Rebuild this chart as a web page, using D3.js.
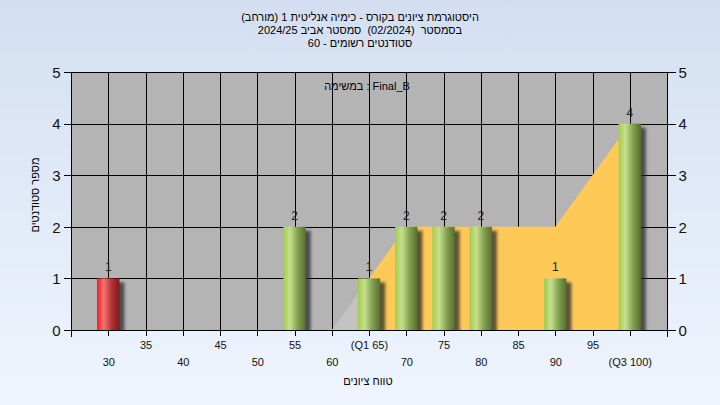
<!DOCTYPE html>
<html><head><meta charset="utf-8">
<script src="https://cdn.jsdelivr.net/npm/d3@7"></script>
<style>html,body{margin:0;padding:0;}svg{display:block;} .pre{white-space:pre;}</style>
</head><body><svg id="c" width="720" height="405"></svg>
<script>
const categories = [30,35,40,45,50,55,60,65,70,75,80,85,90,95,100];
const counts     = [1,0,0,0,0,2,0,1,2,2,2,0,1,0,4];
const tickLabels = ["30","35","40","45","50","55","60","(Q1 65)","70","75","80","85","90","95","(Q3 100)"];
const areaGrades = [60,65,70,75,80,85,90,95,100];
const areaValues = [0,1,2,2,2,2,2,3,4];
const yTicks = [0,1,2,3,4,5];
const titleLines = [
  "היסטוגרמת ציונים בקורס - כימיה אנליטית 1 (מורחב)",
  "בסמסטר  (02/2024)  סמסטר אביב 2024/25",
  "סטודנטים רשומים - 60"
];
const subTitle = "במשימה : Final_B";
const xTitle = "טווח ציונים";
const yTitle = "מספר סטודנטים";
const LRM = "\u200E"; // left-to-right base direction, as in the original renderer

const svg = d3.select("#c");
const W=720,H=405;
const L=71,R=667,T=72,B=330;
const font = "'Liberation Sans', Arial, sans-serif";

const defs = svg.append("defs");
const bg = defs.append("linearGradient").attr("id","bg").attr("x1",0).attr("y1",0).attr("x2",0).attr("y2",1);
bg.append("stop").attr("offset","0%").attr("stop-color","#d3dff1");
bg.append("stop").attr("offset","100%").attr("stop-color","#eff5fe");
function cyl(id, c0, c1, c2, c3){
  const g = defs.append("linearGradient").attr("id",id).attr("x1",0).attr("y1",0).attr("x2",1).attr("y2",0);
  g.append("stop").attr("offset","0%").attr("stop-color",c0);
  g.append("stop").attr("offset","30%").attr("stop-color",c1);
  g.append("stop").attr("offset","65%").attr("stop-color",c2);
  g.append("stop").attr("offset","100%").attr("stop-color",c3);
}
cyl("gGreen","#a2cc4c","#c6e08e","#849f50","#55702c");
cyl("gRed","#ec1c24","#f97373","#b23434","#801818");
const f = defs.append("filter").attr("id","sh").attr("x","-50%").attr("y","-50%").attr("width","200%").attr("height","200%");
f.append("feGaussianBlur").attr("stdDeviation",1.6);

svg.append("rect").attr("width",W).attr("height",H).attr("fill","url(#bg)");

const x = d3.scaleLinear().domain([25,105]).range([L,R]);
const y = d3.scaleLinear().domain([0,5]).range([B,T]);

svg.append("rect").attr("x",L).attr("y",T).attr("width",R-L).attr("height",B-T).attr("fill","#b4b4b4");

const grid = svg.append("g").attr("stroke","#000").attr("stroke-width",1).attr("shape-rendering","crispEdges");
grid.selectAll("line.h").data(yTicks.slice(1)).join("line")
  .attr("x1",L).attr("x2",R).attr("y1",d=>Math.round(y(d))+0.5).attr("y2",d=>Math.round(y(d))+0.5);
grid.selectAll("line.v").data(categories).join("line")
  .attr("x1",d=>Math.round(x(d))+0.5).attr("x2",d=>Math.round(x(d))+0.5).attr("y1",T).attr("y2",B);

const areaPts = areaGrades.map((g,i)=>({g,v:areaValues[i]}));
const area = d3.area().x(d=>x(d.g)).y0(y(0)).y1(d=>y(d.v));
svg.append("path").attr("d",area(areaPts.filter(d=>d.g<=65))).attr("fill","#c3c3c3");
svg.append("path").attr("d",area(areaPts.filter(d=>d.g>=65))).attr("fill","#ffc957");

const band = x(35)-x(30);
const bw = band*0.6;
const data = categories.map((c,i)=>({c,v:counts[i]})).filter(d=>d.v>0);
const bars = svg.append("g");
bars.selectAll("rect.s").data(data).join("rect")
  .attr("x",d=>x(d.c)-bw/2+5).attr("y",d=>y(d.v)+4).attr("width",bw).attr("height",d=>y(0)-y(d.v))
  .attr("fill","#2a2a2a").attr("opacity",0.75).attr("filter","url(#sh)");
bars.selectAll("rect.b").data(data).join("rect")
  .attr("x",d=>x(d.c)-bw/2).attr("y",d=>y(d.v)).attr("width",bw).attr("height",d=>y(0)-y(d.v))
  .attr("fill",d=>d.c<55?"url(#gRed)":"url(#gGreen)");
bars.selectAll("text").data(data).join("text")
  .attr("x",d=>x(d.c)).attr("y",d=>y(d.v)-7).attr("text-anchor","middle")
  .attr("font-family",font).attr("font-size",12).attr("fill","#222").text(d=>d.v);

svg.append("rect").attr("x",L-10).attr("y",B+0.5).attr("width",R-L+20).attr("height",12).attr("fill","#e9f1fc");

const ax = svg.append("g").attr("stroke","#000").attr("shape-rendering","crispEdges");
ax.append("line").attr("x1",L+0.5).attr("x2",L+0.5).attr("y1",T).attr("y2",B+7);
ax.append("line").attr("x1",R+0.5).attr("x2",R+0.5).attr("y1",T).attr("y2",B+7);
ax.append("line").attr("x1",L).attr("x2",R).attr("y1",B+0.5).attr("y2",B+0.5);

const yl = svg.append("g").attr("transform",`translate(${L+0.5},0)`)
  .call(d3.axisLeft(y).tickValues(yTicks).tickSize(8).tickPadding(3).tickFormat(d3.format("d")));
const yr = svg.append("g").attr("transform",`translate(${R+0.5},0)`)
  .call(d3.axisRight(y).tickValues(yTicks).tickSize(8).tickPadding(3).tickFormat(d3.format("d")));
const xa = svg.append("g").attr("transform",`translate(0,${B+0.5})`)
  .call(d3.axisBottom(x).tickValues(categories).tickSize(5).tickFormat((d,i)=>tickLabels[i]));
[yl,yr,xa].forEach(g=>{
  g.select(".domain").remove();
  g.selectAll("line").attr("stroke","#000").attr("shape-rendering","crispEdges");
});
[yl,yr].forEach(g=>g.selectAll("text").attr("font-family",font).attr("font-size",15).attr("fill","#111").attr("dy","0.35em"));
xa.selectAll("text").attr("font-family",font).attr("font-size",11).attr("fill","#111")
  .attr("y",(d,i)=> i%2===0 ? 28 : 11).attr("dy","0.71em");

svg.append("g").selectAll("text").data(titleLines).join("text").attr("class","pre")
  .attr("x",360).attr("y",(d,i)=>21+i*13).attr("text-anchor","middle").attr("direction","ltr")
  .attr("font-family",font).attr("font-size",11).attr("fill","#000").text(d=>LRM+d);
svg.append("text").attr("x",367).attr("y",90).attr("text-anchor","middle").attr("direction","ltr")
  .attr("font-family",font).attr("font-size",11).attr("fill","#000").text(LRM+subTitle);
svg.append("text").attr("x",368).attr("y",385).attr("text-anchor","middle").attr("direction","ltr")
  .attr("font-family",font).attr("font-size",11).attr("fill","#000").text(LRM+xTitle);
svg.append("text").attr("transform","translate(39,195) rotate(-90)").attr("text-anchor","middle")
  .attr("font-family",font).attr("font-size",11).attr("fill","#000").text(yTitle);
</script></body></html>
